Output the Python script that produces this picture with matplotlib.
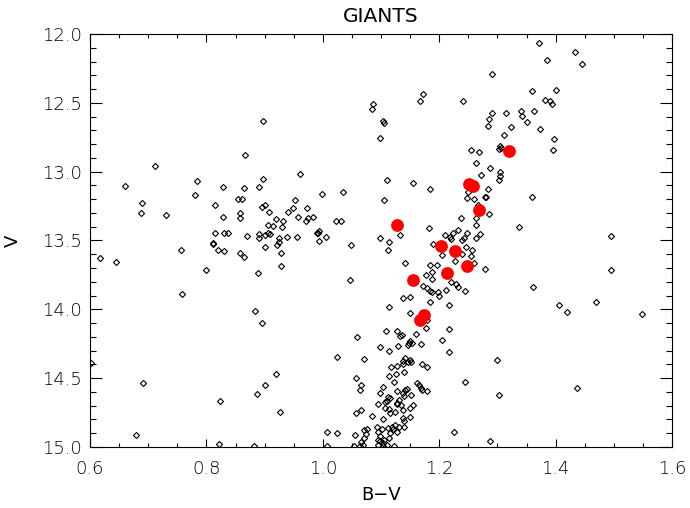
import matplotlib
matplotlib.use("Agg")
import matplotlib.pyplot as plt
from matplotlib.ticker import MultipleLocator, FormatStrFormatter

plt.rcParams["font.family"] = ["DejaVu Sans"]
plt.rcParams["font.weight"] = "light"

# Black open diamonds: (B-V, V)
bv = [
    # left clump / field
    0.866, 0.711, 0.660, 0.784, 0.829, 0.864, 0.891, 0.780, 0.690, 0.815,
    0.855, 0.862, 0.687, 0.731, 0.829, 0.858, 0.858, 0.814, 0.831, 0.837,
    0.870, 0.890,
    0.617, 0.644, 0.757, 0.799, 0.758, 0.812, 0.812, 0.820, 0.831, 0.857,
    0.864, 0.890, 0.889, 0.884, 0.602, 0.691, 0.887, 0.824, 0.679, 0.821,
    0.882,
    0.897, 1.086, 1.085, 1.104, 1.105, 1.099, 1.173, 1.167, 0.898, 0.961,
    1.110, 1.155, 1.184, 0.999, 1.035, 1.105, 0.895, 0.901, 0.953, 0.908,
    0.949, 0.940, 0.972, 0.919, 0.932, 0.958, 0.971, 0.974, 0.984, 1.023,
    1.031, 0.905, 0.930, 0.915, 0.901, 0.906, 0.910, 0.993, 0.992, 0.990,
    1.006, 0.955, 0.938, 0.925, 1.182, 1.132, 1.099, 1.210, 1.219, 1.223,
    1.233,
    # lower branch
    0.901, 0.921, 0.925, 0.929, 0.928, 0.993, 1.049, 1.047, 0.895, 1.114,
    1.112, 1.141, 1.190, 1.221, 1.204, 1.184, 1.188, 1.178, 1.187, 1.197,
    1.173, 1.179, 1.184, 1.188, 1.198, 1.212, 1.221, 1.229, 1.233, 1.137,
    1.149, 1.184, 1.216, 1.114, 1.149, 1.179, 1.177, 1.216, 1.204, 1.216,
    1.108, 1.127, 1.136, 1.160, 1.150, 1.153, 1.148, 1.146, 1.169, 1.098,
    1.113, 1.129, 1.133, 1.058, 1.024, 1.071, 1.141, 1.149, 1.137, 1.146,
    1.152, 1.127, 1.137, 1.117, 1.113, 1.126, 1.140, 1.170, 1.179, 0.919,
    0.901, 1.057, 1.066, 1.064, 1.122, 1.128, 1.137, 1.141, 1.144, 1.140,
    1.131, 1.128, 1.162, 1.166, 1.170, 1.179, 1.169, 1.152, 1.155, 1.149,
    1.150, 1.104, 1.098, 1.095, 1.110, 1.107, 1.113, 1.115, 1.124, 1.137,
    1.138, 1.140, 1.057, 1.066, 1.085, 1.103, 0.926, 1.007, 1.024, 1.055,
    1.071, 1.076, 1.074, 1.070, 1.066, 1.069, 1.064, 1.054, 1.093, 1.095,
    1.101, 1.098, 1.094, 1.099, 1.103, 1.106, 1.110, 1.095, 1.104, 1.113,
    1.115, 1.121, 1.112, 1.124, 1.119, 1.131, 1.140, 1.127, 1.122, 1.225,
    1.008, 1.128, 1.134, 1.107, 1.112, 1.115, 1.200,
    # upper branch / right field
    1.371, 1.434, 1.445, 1.386, 1.291, 1.241, 1.359, 1.401, 1.382, 1.390,
    1.394, 1.341, 1.342, 1.363, 1.350, 1.315, 1.291, 1.286, 1.284, 1.324,
    1.374, 1.311, 1.398, 1.396, 1.305, 1.306, 1.303, 1.255, 1.269, 1.264,
    1.287, 1.304, 1.304, 1.303, 1.272, 1.283, 1.250, 1.247, 1.259, 1.278,
    1.280, 1.359, 1.266, 1.238, 1.264, 1.286, 1.264, 1.337, 1.247, 1.270,
    1.263, 1.495,
    1.239, 1.242, 1.246, 1.256, 1.255, 1.239, 1.227, 1.259, 1.279, 1.244,
    1.362, 1.405, 1.419, 1.469, 1.495, 1.549, 1.300, 1.245, 1.303, 1.436,
    1.288,
]
vmag = [
    12.881, 12.956, 13.106, 13.070, 13.113, 13.116, 13.113, 13.171, 13.225, 13.244,
    13.200, 13.200, 13.302, 13.312, 13.327, 13.298, 13.336, 13.448, 13.443, 13.443,
    13.467, 13.452,
    13.625, 13.656, 13.569, 13.712, 13.890, 13.516, 13.525, 13.566, 13.576, 13.590,
    13.619, 13.484, 13.736, 14.009, 14.387, 14.537, 14.617, 14.663, 14.912, 14.980,
    14.993,
    12.634, 12.506, 12.545, 12.634, 12.644, 12.753, 12.434, 12.487, 13.051, 13.019,
    13.062, 13.082, 13.128, 13.164, 13.145, 13.206, 13.256, 13.244, 13.206, 13.295,
    13.266, 13.295, 13.261, 13.343, 13.356, 13.329, 13.358, 13.338, 13.331, 13.358,
    13.356, 13.387, 13.402, 13.394, 13.460, 13.447, 13.454, 13.428, 13.447, 13.445,
    13.476, 13.476, 13.476, 13.484, 13.411, 13.460, 13.479, 13.460, 13.476, 13.447,
    13.423,
    13.545, 13.532, 13.513, 13.588, 13.683, 13.503, 13.532, 13.786, 14.097, 13.513,
    13.569, 13.663, 13.525, 13.491, 13.605, 13.678, 13.726, 13.750, 13.781, 13.680,
    13.830, 13.847, 13.864, 13.871, 13.871, 13.859, 13.799, 13.815, 13.835, 13.919,
    13.912, 13.944, 13.968, 13.980, 14.024, 14.077, 14.137, 14.140, 14.222, 14.309,
    14.155, 14.155, 14.188, 14.176, 14.229, 14.244, 14.246, 14.258, 14.251, 14.271,
    14.302, 14.268, 14.193, 14.203, 14.344, 14.362, 14.355, 14.367, 14.372, 14.382,
    14.382, 14.409, 14.399, 14.420, 14.481, 14.469, 14.452, 14.397, 14.421, 14.471,
    14.551, 14.496, 14.551, 14.585, 14.529, 14.595, 14.605, 14.585, 14.576, 14.629,
    14.660, 14.678, 14.532, 14.549, 14.585, 14.590, 14.571, 14.619, 14.692, 14.716,
    14.784, 14.566, 14.609, 14.687, 14.663, 14.716, 14.726, 14.750, 14.743, 14.731,
    14.791, 14.808, 14.750, 14.731, 14.774, 14.796, 14.745, 14.893, 14.900, 14.912,
    14.876, 14.871, 14.905, 14.936, 14.961, 14.985, 14.993, 14.990, 14.852, 14.888,
    14.871, 14.917, 14.948, 14.956, 14.973, 14.948, 14.985, 14.985, 14.993, 14.936,
    14.900, 14.871, 14.864, 14.837, 14.852, 14.856, 14.852, 14.893, 14.993, 14.888,
    14.993, 14.687, 14.692, 14.672, 14.634, 14.646, 13.903,
    12.068, 12.133, 12.218, 12.187, 12.288, 12.484, 12.412, 12.409, 12.482, 12.487,
    12.506, 12.559, 12.593, 12.561, 12.637, 12.576, 12.576, 12.617, 12.670, 12.675,
    12.690, 12.731, 12.760, 12.842, 12.811, 12.828, 12.835, 12.840, 12.855, 12.935,
    12.971, 13.002, 13.029, 13.060, 13.026, 13.126, 13.145, 13.191, 13.196, 13.184,
    13.184, 13.181, 13.242, 13.334, 13.334, 13.307, 13.387, 13.399, 13.443, 13.455,
    13.484, 13.467,
    13.496, 13.484, 13.549, 13.569, 13.610, 13.600, 13.646, 13.665, 13.704, 13.869,
    13.837, 13.970, 14.017, 13.948, 13.714, 14.033, 14.370, 14.525, 14.622, 14.571,
    14.953,
]

# Red filled circles (highlighted giants)
bv_red = [1.127, 1.320, 1.252, 1.258, 1.269, 1.203, 1.228, 1.247, 1.213, 1.155, 1.167, 1.174]
v_red = [13.387, 12.853, 13.093, 13.104, 13.280, 13.540, 13.576, 13.683, 13.733, 13.789, 14.077, 14.041]

title = "GIANTS"
xlabel = "B\u2212V"
ylabel = "V"

fig = plt.figure(figsize=(6.9, 5.08), dpi=100)
ax = fig.add_axes([90 / 690, 1 - 447 / 508, 582 / 690, 413 / 508])

ax.plot(bv, vmag, linestyle="none", marker="D", markersize=3.1,
        markerfacecolor="none", markeredgecolor="black", markeredgewidth=0.8)
ax.plot(bv_red, v_red, linestyle="none", marker="o", markersize=9.2,
        markerfacecolor="#ff0000", markeredgecolor="#ff0000", markeredgewidth=0)

ax.set_xlim(0.6, 1.6)
ax.set_ylim(15.0, 12.0)

ax.xaxis.set_major_locator(MultipleLocator(0.2))
ax.xaxis.set_minor_locator(MultipleLocator(0.05))
ax.yaxis.set_major_locator(MultipleLocator(0.5))
ax.yaxis.set_minor_locator(MultipleLocator(0.1))
ax.xaxis.set_major_formatter(FormatStrFormatter("%.1f"))
ax.yaxis.set_major_formatter(FormatStrFormatter("%.1f"))

ax.tick_params(which="both", direction="in", top=True, right=True, width=0.8,
               labelsize=13, colors="black")
ax.tick_params(axis="x", which="major", length=6.0, pad=9)
ax.tick_params(axis="x", which="minor", length=3.1)
ax.tick_params(axis="y", which="major", length=8.4, pad=6)
ax.tick_params(axis="y", which="minor", length=4.3)
for sp in ax.spines.values():
    sp.set_linewidth(0.8)

ax.set_title(title, fontsize=14.5, pad=9)
ax.set_xlabel(xlabel, fontsize=13, labelpad=6)
ax.set_ylabel(ylabel, fontsize=13, rotation=90, labelpad=14)

fig.savefig("out.png", dpi=100)
